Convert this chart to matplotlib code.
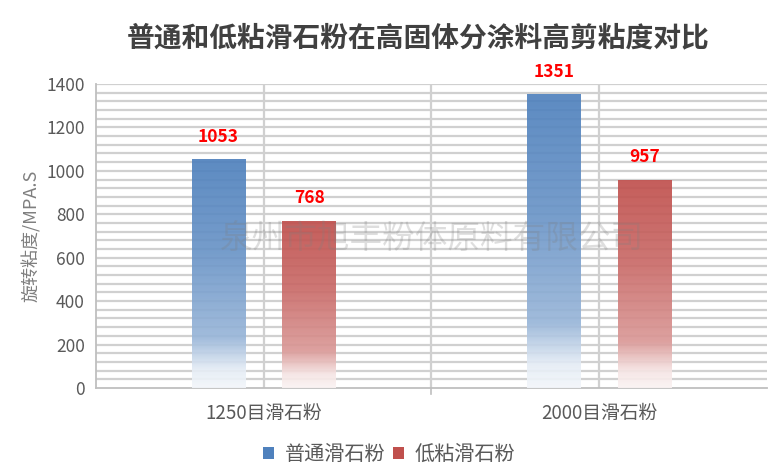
import numpy as np
import matplotlib
matplotlib.use("Agg")
import matplotlib.pyplot as plt
from matplotlib.colors import LinearSegmentedColormap, to_rgb

plt.rcParams['font.family'] = ['Noto Sans CJK SC', 'DejaVu Sans']

# données
categories = ["1250目滑石粉", "2000目滑石粉"]
series = ["普通滑石粉", "低粘滑石粉"]
normal = [1053, 1351]
low = [768, 957]
colors = ["#4F81BD", "#C0504D"]

fig = plt.figure(figsize=(7.79, 4.76), dpi=100)
ax = fig.add_axes([0.1232, 0.185, 0.8614, 0.6385])

x = np.arange(len(categories))
w = 0.16
offs = [-0.135, 0.135]

grad = np.linspace(0, 1, 256).reshape(-1, 1)

def mix(c, t):
    # t = part de blanc
    r = np.array(to_rgb(c))
    return tuple(r * (1 - t) + t)

def gradient_bars(xpos, vals, color, label):
    bars = ax.bar(xpos, vals, w, color=color, label=label, zorder=3, alpha=0)
    cmap = LinearSegmentedColormap.from_list(
        "g", [(0, mix(color, 0.93)), (0.08, mix(color, 0.85)),
              (0.22, mix(color, 0.42)), (0.6, mix(color, 0.15)), (1, color)])
    for b in bars:
        x0, y0 = b.get_x(), b.get_y()
        ax.imshow(grad, cmap=cmap, origin="lower", aspect="auto",
                  extent=[x0, x0 + b.get_width(), y0, y0 + b.get_height()],
                  zorder=3, vmin=0, vmax=1, alpha=0.92)
    return bars

gradient_bars(x + offs[0], normal, colors[0], series[0])
gradient_bars(x + offs[1], low, colors[1], series[1])

for xi, v in zip(x + offs[0], normal):
    ax.text(xi, v + 105, str(v), ha="center", va="center", color="red",
            fontsize=12.5, fontweight="bold", zorder=5)
for xi, v in zip(x + offs[1], low):
    ax.text(xi, v + 105, str(v), ha="center", va="center", color="red",
            fontsize=12.5, fontweight="bold", zorder=5)

ax.set_xlim(-0.5, 1.5)
ax.set_ylim(0, 1400)
ax.set_yticks(np.arange(0, 1401, 200))
ax.set_xticks(x)
ax.set_xticklabels(categories, fontsize=13.5, color="#595959")
ax.tick_params(axis="x", length=0, pad=11)
ax.tick_params(axis="y", which="both", length=0, labelsize=12.5,
               labelcolor="#595959", pad=8)

for yv in np.arange(40, 1401, 40):
    ax.axhline(yv, color="#D0D0D0", lw=1.6, zorder=1)
for xv in [0, 0.5, 1]:
    ax.axvline(xv, color="#D0D0D0", lw=1.6, zorder=1)
ax.plot([0.5, 0.5], [0, -30], color="#BFBFBF", lw=1.2, clip_on=False)

for s in ["top", "right"]:
    ax.spines[s].set_visible(False)
ax.spines["left"].set_color("#BFBFBF")
ax.spines["bottom"].set_color("#BFBFBF")
ax.spines["left"].set_linewidth(1.3)
ax.spines["bottom"].set_linewidth(1.3)

ax.set_ylabel("旋转粘度/MPA.S", fontsize=13, color="#7F7F7F", labelpad=4)

fig.text(0.537, 0.92, "普通和低粘滑石粉在高固体分涂料高剪粘度对比",
         ha="center", va="center", fontsize=20, fontweight="bold", color="#404040")

ax.text(0.5, 0.49, "泉州市旭丰粉体原料有限公司", transform=ax.transAxes,
        ha="center", va="center", fontsize=23.5, color="#7F7F7F", alpha=0.25, zorder=6)

leg = ax.legend(loc="center", bbox_to_anchor=(0.437, -0.22), ncol=2, frameon=False,
                fontsize=14.5, handlelength=0.55, handleheight=0.55,
                handletextpad=0.5, columnspacing=0.4, labelcolor="#595959")
for h, c in zip(leg.legend_handles, colors):
    h.set_alpha(1)
    h.set_facecolor(c)

fig.savefig("out.png", dpi=100)
